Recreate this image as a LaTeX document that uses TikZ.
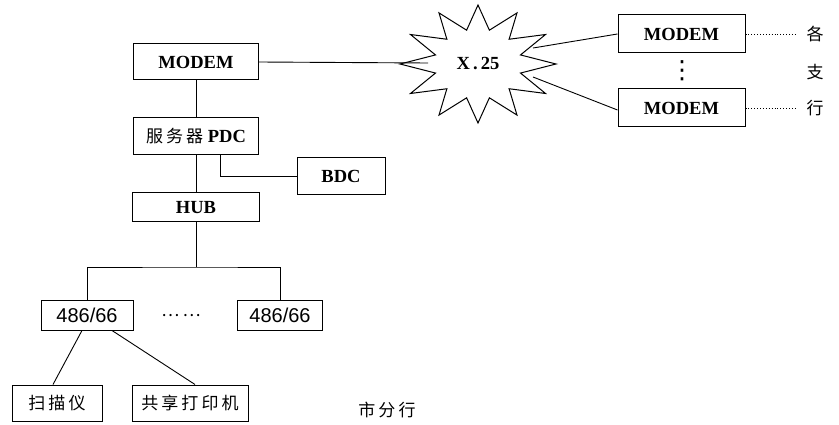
\documentclass[tikz,border=0pt]{standalone}
\usepackage{fontspec}
\setmainfont{Liberation Serif}
\newfontfamily\cjk[LetterSpace=18]{Noto Sans CJK SC}
\newfontfamily\numsans{Liberation Sans}
\newfontfamily\sym{DejaVu Sans}
\usetikzlibrary{calc}

\begin{document}
\begin{tikzpicture}[
  x=1pt, y=-1pt, line width=1pt,
  box/.style={draw, line width=1pt, inner sep=0pt, minimum height=36pt},
  lat/.style={font=\fontsize{18.5}{20}\selectfont\bfseries},
  han/.style={font=\fontsize{17}{20}\selectfont\cjk},
  pc/.style={font=\fontsize{20}{22}\selectfont\numsans},
  link/.style={draw, line width=.9pt},
  tail/.style={draw, dotted, line width=.9pt},
]
  \useasboundingbox (0,0) rectangle (839,425);

  % Head office: modem, primary and backup server, hub.
  \node[box, lat, minimum width=125pt] (modem) at (196,62) {MODEM};
  \node[box, lat, minimum width=125pt, minimum height=37pt] (pdc) at (196,136.5)
    {{\fontsize{17}{20}\selectfont\cjk\mdseries 服务器} PDC};
  \node[box, lat, minimum width=88pt, minimum height=37pt] (bdc) at (341,176.5) {BDC};
  \node[box, lat, minimum width=127pt, minimum height=29pt] (hub) at (196,207.5) {HUB};
  \coordinate (bus) at (196,267);

  % Workstations and their peripherals.
  \node[box, pc, minimum width=92pt, minimum height=30pt] (pcL) at (87,315) {486/66};
  \node[box, pc, minimum width=85pt, minimum height=30pt] (pcR) at (280,315) {486/66};
  \node[han] (more) at (181,316) {……};
  \node[box, han, minimum width=90pt] (scan) at (57,403) {扫描仪};
  \node[box, han, minimum width=116pt] (prn) at (190,403) {共享打印机};
  \node[han] (city) at (387,410) {市分行};

  % X.25 network drawn as a twelve-point burst.
  \draw plot[variable=\k, samples at={0,...,23}]
    ({478+(61+17*cos(\k*180))*cos(\k*15)}, {64+(47+12*cos(\k*180))*sin(\k*15)}) -- cycle;
  \node[lat] (x25) at (478,64) {X\,.\,25};
  \coordinate (x25w) at (428,63);
  \coordinate (x25ne) at (533,48);
  \coordinate (x25se) at (533,77);

  % Branch modems.
  \node[box, lat, minimum width=127pt, minimum height=38pt] (modemT) at (681.5,34) {MODEM};
  \node[box, lat, minimum width=127pt, minimum height=38pt] (modemB) at (681.5,108) {MODEM};
  \node[font=\fontsize{25}{28}\selectfont\sym, inner sep=0pt] (gap) at (682,71) {⋮};
  \coordinate (endT) at (797,34);
  \coordinate (endB) at (797,108);
  \node[han] (ge) at (815,34) {各};
  \node[han] (zhi) at (815,72) {支};
  \node[han] (hang) at (815,108) {行};

  \draw[link] (modem) -- (pdc);
  \draw[link] (pdc) -- (hub);
  \draw[link] ($(pdc.south)+(24,0)$) |- (bdc.west);
  \draw[link] (hub.south) -- (bus);
  \draw[link] (pcL.north) |- (bus) -| (pcR.north);
  \draw[link] ($(pcL.south)+(-5,0)$) -- ($(scan.north)+(-4,0)$);
  \draw[link] ($(pcL.south)+(25,0)$) -- ($(prn.north)+(5,0)$);
  \draw[link] (modem.east) -- (x25w);
  \draw[link] (x25ne) -- (modemT.west);
  \draw[link] (x25se) -- ($(modemB.west)+(0,2)$);
  \draw[tail] (modemT.east) -- (endT);
  \draw[tail] (modemB.east) -- (endB);
\end{tikzpicture}
\end{document}
